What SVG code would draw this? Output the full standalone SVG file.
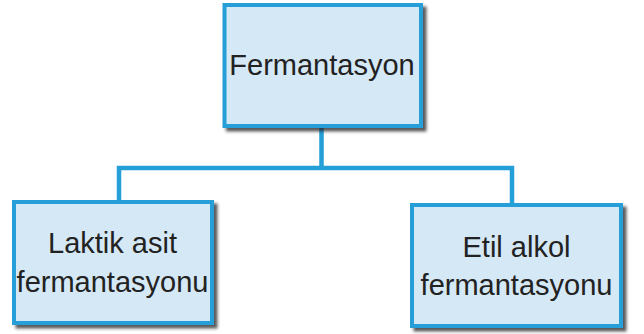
<svg xmlns="http://www.w3.org/2000/svg" width="644" height="334" viewBox="0 0 644 334">
  <defs>
    <filter id="shadow" x="-10%" y="-10%" width="125%" height="130%">
      <feDropShadow dx="3.5" dy="3.5" stdDeviation="1.6" flood-color="#222" flood-opacity="0.75"/>
    </filter>
  </defs>
  <style>
    .box { fill: #d5e8f5; stroke: #259fd8; stroke-width: 4; filter: url(#shadow); }
    .lbl { font-family: "Liberation Sans", Arial, sans-serif; font-size: 29px; fill: #222; text-anchor: middle; }
    .conn { fill: none; stroke: #259fd8; stroke-width: 4.5; }
  </style>
  <rect width="644" height="334" fill="#ffffff"/>
  <g id="connectors">
    <path class="conn" d="M321.5,126 V168 M119,202 V168 H512 V205"/>
  </g>
  <g id="node-fermantasyon">
    <rect class="box" x="224.5" y="5" width="196.5" height="121"/>
    <text class="lbl" x="322" y="75">Fermantasyon</text>
  </g>
  <g id="node-laktik">
    <rect class="box" x="14" y="202" width="198" height="121"/>
    <text class="lbl" x="112.5" y="253">Laktik asit</text>
    <text class="lbl" x="112.5" y="292">fermantasyonu</text>
  </g>
  <g id="node-etil">
    <rect class="box" x="412" y="205" width="209" height="121"/>
    <text class="lbl" x="516.5" y="257">Etil alkol</text>
    <text class="lbl" x="516.5" y="295">fermantasyonu</text>
  </g>
</svg>
